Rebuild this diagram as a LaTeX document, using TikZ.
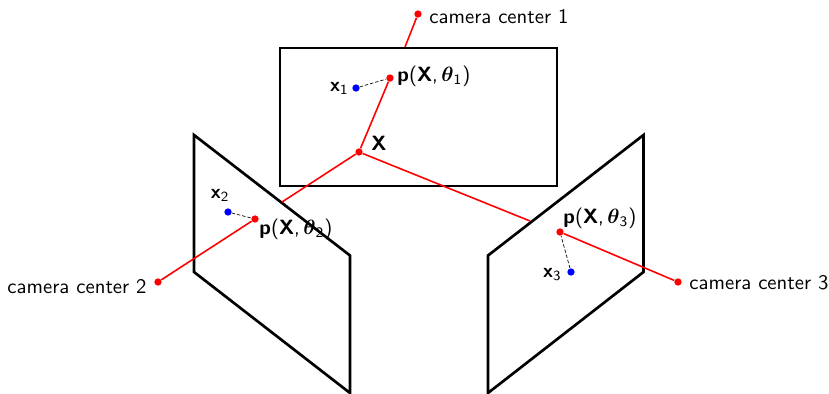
\documentclass[tikz,border=0pt]{standalone}
\usepackage{amsmath,amssymb}
\renewcommand{\familydefault}{\sfdefault}
\begin{document}
\begin{tikzpicture}[x=0.6pt,y=-0.6pt,
  plane/.style={draw=black,line width=1.6pt,line join=miter},
  ray/.style={draw=red,line width=0.95pt},
  link/.style={draw=black,line width=0.4pt,dash pattern=on 2pt off 1.2pt},
  rdot/.style={circle,fill=red,inner sep=0pt,minimum size=4.4pt},
  bdot/.style={circle,fill=blue,inner sep=0pt,minimum size=4.4pt},
  lab/.style={inner sep=0pt,font=\normalsize\sffamily,scale=1.245},
  plab/.style={inner sep=0pt,font=\normalsize\sffamily,scale=1.24},
  sublab/.style={inner sep=0pt,font=\normalsize\sffamily,scale=1.2}]
\useasboundingbox (0,0) rectangle (829,394);
% planes
\coordinate (a1) at (280,48); \coordinate (a2) at (557,48);
\coordinate (a3) at (557,186); \coordinate (a4) at (280,186);
\coordinate (b1) at (194,135); \coordinate (b2) at (350,255.5);
\coordinate (b3) at (350,393); \coordinate (b4) at (194,272);
\coordinate (c1) at (643.5,135); \coordinate (c2) at (488,255.5);
\coordinate (c3) at (488,393); \coordinate (c4) at (643.5,272);
\draw[plane] (a1) -- (a2) -- (a3) -- (a4) -- cycle;
\draw[plane] (b1) -- (b2) -- (b3) -- (b4) -- cycle;
\draw[plane] (c1) -- (c2) -- (c3) -- (c4) -- cycle;
% points
\node[rdot] (X) at (359,152) {};
\node[rdot] (c1c) at (418,14) {};
\node[rdot] (c2c) at (158,282) {};
\node[rdot] (c3c) at (678,282) {};
\node[rdot] (p1) at (390,78) {};
\node[rdot] (p2) at (255,219) {};
\node[rdot] (p3) at (560,232) {};
\node[bdot] (x1) at (356,88) {};
\node[bdot] (x2) at (228,212) {};
\node[bdot] (x3) at (571,272) {};
\coordinate (h1) at (405,47);
\coordinate (h2) at (282,202);
\coordinate (h3) at (530,221);
% rays
\draw[ray] (X) -- (p1);
\draw[ray] (h1) -- (c1c);
\draw[ray] (X) -- (h2);
\draw[ray] (p2) -- (c2c);
\draw[ray] (X) -- (h3);
\draw[ray] (p3) -- (c3c);
% dashed links
\draw[link] (x1) -- (p1);
\draw[link] (x2) -- (p2);
\draw[link] (x3) -- (p3);
% labels
\node[lab,anchor=west] (t1) at (429,17) {camera center 1};
\node[lab,anchor=east] (t2) at (147,287) {camera center 2};
\node[lab,anchor=west] (t3) at (689,283) {camera center 3};
\node[plab,anchor=west] (tX) at (371,143) {\textbf{X}};
\node[plab,anchor=west] (l1) at (397,76) {\textbf{p}(\textbf{X},\,$\boldsymbol{\theta}_{\mathsf{1}}$)};
\node[plab,anchor=west] (l2) at (259,229) {\textbf{p}(\textbf{X},\,$\boldsymbol{\theta}_{\mathsf{2}}$)};
\node[plab,anchor=west] (l3) at (563,218) {\textbf{p}(\textbf{X},\,$\boldsymbol{\theta}_{\mathsf{3}}$)};
\node[sublab,anchor=east] (n1) at (349,88) {\textbf{x}$_{\mathsf{1}}$};
\node[sublab,anchor=center] (n2) at (220,195) {\textbf{x}$_{\mathsf{2}}$};
\node[sublab,anchor=east] (n3) at (562,274) {\textbf{x}$_{\mathsf{3}}$};
\end{tikzpicture}
\end{document}
